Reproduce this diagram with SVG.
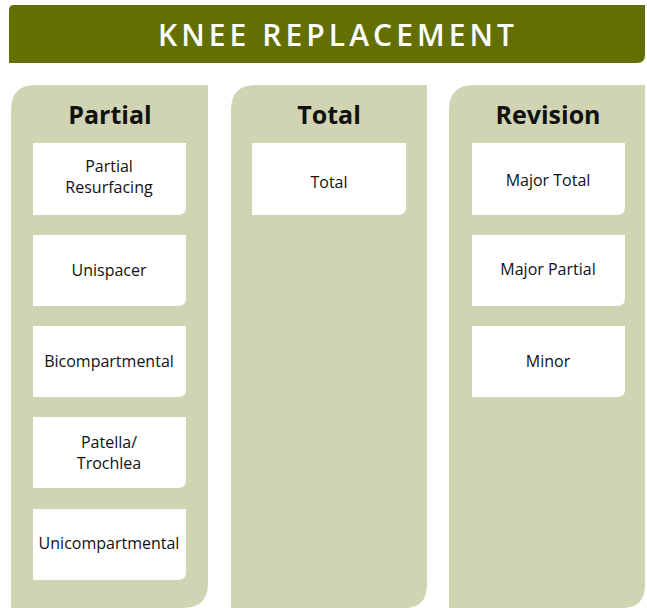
<svg xmlns="http://www.w3.org/2000/svg" width="647" height="608" viewBox="0 0 647 608">
<style>
.col{fill:#d0d4b3}
.box{fill:#ffffff}
.hdr{font-family:"Open Sans","DejaVu Sans",sans-serif;font-size:25px;font-weight:700;fill:#111;text-anchor:middle}
.lbl{font-family:"Open Sans","DejaVu Sans",sans-serif;font-size:16px;fill:#111;text-anchor:middle}
.ttl{font-family:"Open Sans","DejaVu Sans",sans-serif;font-size:30px;font-weight:600;fill:#ffffff;text-anchor:middle}
</style>
<rect width="647" height="608" fill="#ffffff"/>
<g id="title">
<path d="M14 5 H645 V55 Q645 63 637 63 H9 V10 Q9 5 14 5 Z" fill="#636f00"/>
<text class="ttl" x="336" y="46" textLength="356" lengthAdjust="spacing">KNEE REPLACEMENT</text>
</g>
<g id="col-partial">
<path class="col" d="M36 85 H208 V583 Q208 608 183 608 H11 V110 Q11 85 36 85 Z"/>
<text class="hdr" x="110" y="124">Partial</text>
</g>
<g id="col-total">
<path class="col" d="M256 85 H427 V585 Q427 608 404 608 H231 V110 Q231 85 256 85 Z"/>
<text class="hdr" x="329" y="124">Total</text>
</g>
<g id="col-revision">
<path class="col" d="M474 85 H645 V585 Q645 608 622 608 H449 V110 Q449 85 474 85 Z"/>
<text class="hdr" x="548" y="124">Revision</text>
</g>
<g id="partial-resurfacing">
<path class="box" d="M33 143 H186 V207 Q186 215 178 215 H33 Z"/>
<text class="lbl" x="109" y="172">Partial</text>
<text class="lbl" x="109" y="193">Resurfacing</text>
</g>
<g id="unispacer">
<path class="box" d="M33 235 H186 V298 Q186 306 178 306 H33 Z"/>
<text class="lbl" x="109" y="276">Unispacer</text>
</g>
<g id="bicompartmental">
<path class="box" d="M33 326 H186 V389 Q186 397 178 397 H33 Z"/>
<text class="lbl" x="109" y="367">Bicompartmental</text>
</g>
<g id="patella-trochlea">
<path class="box" d="M33 417 H186 V480 Q186 488 178 488 H33 Z"/>
<text class="lbl" x="109" y="448">Patella/</text>
<text class="lbl" x="109" y="469">Trochlea</text>
</g>
<g id="unicompartmental">
<path class="box" d="M33 509 H186 V572 Q186 580 178 580 H33 Z"/>
<text class="lbl" x="109" y="549">Unicompartmental</text>
</g>
<g id="total">
<path class="box" d="M252 143 H406 V207 Q406 215 398 215 H252 Z"/>
<text class="lbl" x="329" y="188">Total</text>
</g>
<g id="major-total">
<path class="box" d="M472 143 H625 V207 Q625 215 617 215 H472 Z"/>
<text class="lbl" x="548" y="186">Major Total</text>
</g>
<g id="major-partial">
<path class="box" d="M472 235 H625 V298 Q625 306 617 306 H472 Z"/>
<text class="lbl" x="548" y="275">Major Partial</text>
</g>
<g id="minor">
<path class="box" d="M472 326 H625 V389 Q625 397 617 397 H472 Z"/>
<text class="lbl" x="548" y="367">Minor</text>
</g>
<g id="connectors"></g>
</svg>
